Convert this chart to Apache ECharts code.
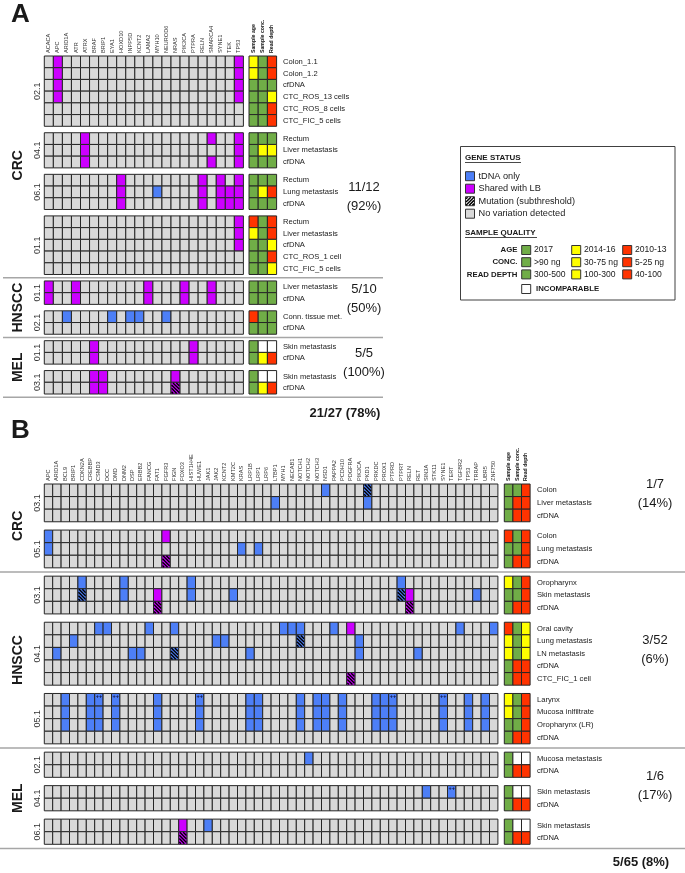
<!DOCTYPE html>
<html><head><meta charset="utf-8">
<script src="https://cdn.jsdelivr.net/npm/echarts@6/dist/echarts.min.js"></script>
<style>html,body{margin:0;padding:0;background:#fff}#c{width:685px;height:873px}</style>
</head><body><div id="c"></div>
<script>
// ================= DATA =================
const qualityCols = ['Sample age', 'Sample conc.', 'Read depth'];

// ---- Panel A ----
const genesA = ['ACACA','APC','ARID1A','ATR','ATRX','BRAF','BRIP1','EYA1','HOXD10','INPP5D','KCNT2','LAMA2','MYH10','NEUROD6','NRAS','PIK3CA','PTPRA','RELN','SMARCA4','SYNE1','TEK','TP53'];
const cancerA = ['CRC','CRC','CRC','CRC','HNSCC','HNSCC','MEL','MEL'];
const patientA = ['02.1','04.1','06.1','01.1','01.1','02.1','01.1','03.1'];
const samplesA = [
  ['Colon_1.1','Colon_1.2','cfDNA','CTC_ROS_13 cells','CTC_ROS_8 cells','CTC_FIC_5 cells'],
  ['Rectum','Liver metastasis','cfDNA'],
  ['Rectum','Lung metastasis','cfDNA'],
  ['Rectum','Liver metastasis','cfDNA','CTC_ROS_1 cell','CTC_FIC_5 cells'],
  ['Liver metastasis','cfDNA'],
  ['Conn. tissue met.','cfDNA'],
  ['Skin metastasis','cfDNA'],
  ['Skin metastasis','cfDNA']
];
// quality per sample: age / conc. / read depth  (G 2017|>90|300-500, Y, R, W incomparable)
const qualityA = [
  ['YGR','YGR','GGG','GGY','GGR','GGR'],
  ['GGG','GYY','GGG'],
  ['GGG','GYR','GGG'],
  ['RGR','YGR','GGY','GGR','GGY'],
  ['GGG','GGG'],
  ['RGG','GGG'],
  ['GWW','GYR'],
  ['GWW','GYR']
];
// [patient index, sample rows, gene, status]  T = tDNA only, S = shared with LB, TH/SH = subthreshold
const variantsA = [
  [0,'0123','APC','S'],[0,'0123','TP53','S'],
  [1,'012','ATRX','S'],[1,'02','SMARCA4','S'],[1,'012','TP53','S'],
  [2,'012','HOXD10','S'],[2,'1','MYH10','T'],[2,'012','RELN','S'],[2,'012','SYNE1','S'],[2,'12','TEK','S'],[2,'012','TP53','S'],
  [3,'012','TP53','S'],
  [4,'01','ACACA','S'],[4,'01','ATR','S'],[4,'01','LAMA2','S'],[4,'01','PIK3CA','S'],[4,'01','SMARCA4','S'],
  [5,'0','ARID1A','T'],[5,'0','EYA1','T'],[5,'0','INPP5D','T'],[5,'0','KCNT2','T'],[5,'0','NEUROD6','T'],
  [6,'01','BRAF','S'],[6,'01','PTPRA','S'],
  [7,'01','BRAF','S'],[7,'01','BRIP1','S'],[7,'0','NRAS','S'],[7,'1','NRAS','SH']
];
const plusA = [];
const fracCancerA = ['CRC','HNSCC','MEL'];
const fracA = [['11/12','(92%)'],['5/10','(50%)'],['5/5','(100%)']];
const totalA = '21/27 (78%)';

// ---- Panel B ----
const genesB = ['APC','ARID1A','BCL9','BRIP1','CDKN2A','CREBBP','CSMD3','DCC','DMD','DNM2','DSP','ERBB2','FANCG','FAT1','FGFR3','FIGN','FOXO3','HIST1H4E','HUWE1','JAK1','JAK2','KCNT2','KMT2C','KRAS','LRP1B','LRP1','LRP6','LTBP1','MYH1','NECAB1','NOTCH1','NOTCH2','NOTCH3','NSD1','PAPPA2','PCDH10','PDGFRA','PIK3CA','PKD1','PRKDC','PROX1','PTPRD','PTPRT','RELN','RET','SIN3A','STK11','SYNE1','TERT','TGFBR2','TP53','TRRAP','UBR5','ZNF750'];
const cancerB = ['CRC','CRC','HNSCC','HNSCC','HNSCC','MEL','MEL','MEL'];
const patientB = ['03.1','05.1','03.1','04.1','05.1','02.1','04.1','06.1'];
const samplesB = [
  ['Colon','Liver metastasis','cfDNA'],
  ['Colon','Lung metastasis','cfDNA'],
  ['Oropharynx','Skin metastasis','cfDNA'],
  ['Oral cavity','Lung metastasis','LN metastasis','cfDNA','CTC_FIC_1 cell'],
  ['Larynx','Mucosa inlfiltrate','Oropharynx (LR)','cfDNA'],
  ['Mucosa metastasis','cfDNA'],
  ['Skin metastasis','cfDNA'],
  ['Skin metastasis','cfDNA']
];
const qualityB = [
  ['GGR','GRR','GRR'],
  ['RGR','GGR','GRR'],
  ['YGR','GGR','GRR'],
  ['RGY','YGY','YGY','GRR','GRR'],
  ['YGR','YGR','GGR','GRR'],
  ['GWW','GRR'],
  ['GWW','GRR'],
  ['GWW','GRR']
];
const variantsB = [
  [0,'0','NSD1','T'],[0,'0','PKD1','TH'],[0,'1','LTBP1','T'],[0,'1','PKD1','T'],
  [1,'01','APC','T'],[1,'0','FGFR3','S'],[1,'2','FGFR3','SH'],[1,'1','KRAS','T'],[1,'1','LRP1','T'],
  [2,'0','CDKN2A','T'],[2,'1','CDKN2A','TH'],[2,'01','DNM2','T'],[2,'01','HIST1H4E','T'],[2,'1','FAT1','S'],[2,'2','FAT1','SH'],
  [2,'1','KMT2C','T'],[2,'0','PTPRT','T'],[2,'1','PTPRT','TH'],[2,'1','RELN','S'],[2,'2','RELN','SH'],[2,'1','TRRAP','T'],
  [3,'0','CSMD3','T'],[3,'0','DCC','T'],[3,'0','FANCG','T'],[3,'0','FIGN','T'],[3,'0','MYH1','T'],[3,'0','NECAB1','T'],
  [3,'0','NOTCH1','T'],[3,'0','PAPPA2','T'],[3,'0','PDGFRA','S'],[3,'0','TGFBR2','T'],[3,'0','ZNF750','T'],
  [3,'1','BRIP1','T'],[3,'1','JAK2','T'],[3,'1','KCNT2','T'],[3,'1','NOTCH1','TH'],[3,'12','PIK3CA','T'],
  [3,'2','ARID1A','T'],[3,'2','DSP','T'],[3,'2','ERBB2','T'],[3,'2','FIGN','TH'],[3,'2','LRP1B','T'],[3,'2','RET','T'],
  [3,'4','PDGFRA','SH'],
  [4,'012','BCL9','T'],[4,'012','CREBBP','T'],[4,'012','CSMD3','T'],[4,'012','DMD','T'],[4,'012','FAT1','T'],[4,'012','HUWE1','T'],
  [4,'012','LRP1B','T'],[4,'012','LRP1','T'],[4,'012','NOTCH1','T'],[4,'012','NOTCH3','T'],[4,'012','NSD1','T'],[4,'012','PCDH10','T'],
  [4,'012','PRKDC','T'],[4,'012','PROX1','T'],[4,'012','PTPRD','T'],[4,'012','SYNE1','T'],[4,'012','TP53','T'],[4,'012','UBR5','T'],
  [5,'0','NOTCH2','T'],
  [6,'0','SIN3A','T'],[6,'0','TERT','T'],
  [7,'0','FOXO3','S'],[7,'1','FOXO3','SH'],[7,'0','JAK1','T']
];
// cells marked "++"
const plusB = [[4,0,'CSMD3'],[4,0,'DMD'],[4,0,'HUWE1'],[4,0,'PTPRD'],[4,0,'SYNE1'],[6,0,'TERT']];
const fracCancerB = ['CRC','HNSCC','MEL'];
const fracB = [['1/7','(14%)'],['3/52','(6%)'],['1/6','(17%)']];
const totalB = '5/65 (8%)';

// ================= LAYOUT / STYLE =================
const FONT = '"Liberation Sans", Arial, sans-serif';
const COL = {N:'#d9d9d9', T:'#4d7ff7', S:'#cc00ff', G:'#70ad47', Y:'#ffff00', R:'#ff3300', W:'#ffffff'};
const STATUS = ['N','T','S','TH','SH'];
const QCODE = ['G','Y','R','W'];
const LA = {top:56, height:338, geneLeft:44.3, geneW:199.1, qLeft:249, qW:27.6, gap:0.55, labelX:283,
            fracX:364, fracY:[12.03,20.74,26.2], totX:345, totY:30.47, sepX:[3,383]};
const LB = {top:484, height:360.3, geneLeft:44.3, geneW:453.6, qLeft:504.3, qW:25.8, gap:0.66, labelX:537,
            fracX:655, fracY:[0.75,13.15,23.95], totX:641, totY:30.03, sepX:[0,685]};

function groupStarts(samples, gap){
  let y = 0;
  const st = samples.map((s,i)=>{ if(i) y += gap; const v = y; y += s.length; return v; });
  return {starts: st, total: y};
}
function hatchLines(x0,y0,w,h,step,dir){
  const out=[];
  if(dir>0){
    for(let c=-h+step/2;c<w;c+=step){
      const sx=x0+Math.max(c,0), sy=y0+Math.max(-c,0);
      const L=Math.min(x0+w-sx, y0+h-sy);
      if(L>0) out.push([sx,sy,sx+L,sy+L]);
    }
  } else {
    for(let c=step/2;c<w+h;c+=step){
      const sx = c<=w ? x0+c : x0+w, sy = c<=w ? y0 : y0+c-w;
      const L=Math.min(sx-x0, y0+h-sy);
      if(L>0) out.push([sx,sy,sx-L,sy+L]);
    }
  }
  return out;
}
function txt(text, x, y, o){
  o = o || {};
  return {type:'text', x:x, y:y, rotation:o.rot||0, silent:true,
    style:{text:text, fill:o.color||'#1a1a1a', fontSize:o.size||8, fontWeight:o.weight||'normal', fontFamily:FONT,
      align:o.align||'left', verticalAlign:'middle', textAlign:o.align||'left', textVerticalAlign:'middle'}};
}

function buildPanel(P, genes, cancer, patient, samples, quality, variants, plus, fracCancer, frac, total, axOff){
  const gi = axOff, qi = axOff+1;
  const {starts, total: totalUnits} = groupStarts(samples, P.gap);
  const vmap = {};
  variants.forEach(([g, rows, gene, st]) => { for (const r of rows) vmap[g+'|'+r+'|'+gene] = st; });
  const pset = new Set(plus.map(([g,r,gene]) => g+'|'+r+'|'+gene));
  const cells = [], qcells = [], rowLabels = [], rowY = [];
  samples.forEach((rows, g) => rows.forEach((name, r) => {
    const y = starts[g] + r;
    genes.forEach((gene, c) => {
      const k = g+'|'+r+'|'+gene;
      cells.push([c, y, STATUS.indexOf(vmap[k] || 'N'), pset.has(k) ? 1 : 0]);
    });
    quality[g][r].split('').forEach((q, c) => qcells.push([c, y, QCODE.indexOf(q)]));
    rowLabels.push(name); rowY.push([2, y + 0.5]);
  }));
  const blocks = [];
  cancer.forEach((c, g) => {
    const end = starts[g] + samples[g].length;
    if (blocks.length && blocks[blocks.length-1].name === c) blocks[blocks.length-1].end = end;
    else blocks.push({name:c, start:starts[g], end:end});
  });

  const grids = [
    {left:P.geneLeft, top:P.top, width:P.geneW, height:P.height},
    {left:P.qLeft, top:P.top, width:P.qW, height:P.height}
  ];
  const xAxes = [
    {type:'category', gridIndex:gi, data:genes, position:'top', axisLine:{show:false}, axisTick:{show:false},
     axisLabel:{rotate:90, interval:0, fontSize:5.6, fontFamily:FONT, color:'#333', margin:3}},
    {type:'category', gridIndex:qi, data:qualityCols, position:'top', axisLine:{show:false}, axisTick:{show:false},
     axisLabel:{rotate:90, interval:0, fontSize:5.2, fontWeight:'bold', fontFamily:FONT, color:'#111', margin:3}}
  ];
  const yAxes = [
    {type:'value', gridIndex:gi, min:0, max:totalUnits, inverse:true, show:false},
    {type:'value', gridIndex:qi, min:0, max:totalUnits, inverse:true, show:false}
  ];
  const series = [];
  series.push({type:'custom', xAxisIndex:gi, yAxisIndex:gi, silent:true, animation:false, clip:false,
    data:cells, encode:{x:0, y:1},
    renderItem:(params, api) => {
      const p = api.coord([api.value(0), api.value(1)]);
      const s = api.size([1, 1]);
      const x0 = p[0]-s[0]/2, y0 = p[1], w = s[0], h = s[1];
      const st = api.value(2);
      const fill = [COL.N, COL.T, COL.S, COL.T, COL.S][st];
      const ch = [{type:'rect', shape:{x:x0, y:y0, width:w, height:h}, style:{fill:fill, stroke:'#262626', lineWidth:1}}];
      if (st >= 3) hatchLines(x0+0.6, y0+0.6, w-1.2, h-1.2, 3.4, 1).forEach(l => ch.push(
        {type:'line', shape:{x1:l[0], y1:l[1], x2:l[2], y2:l[3]}, style:{stroke:'#000', lineWidth:1.4}}));
      if (api.value(3)) ch.push(txt('++', x0+w/2, y0+3.2, {size:5.5, weight:'bold', align:'center', color:'#14143c'}));
      return {type:'group', children:ch};
    }});
  series.push({type:'custom', xAxisIndex:qi, yAxisIndex:qi, silent:true, animation:false, clip:false,
    data:qcells, encode:{x:0, y:1},
    renderItem:(params, api) => {
      const p = api.coord([api.value(0), api.value(1)]);
      const s = api.size([1, 1]);
      return {type:'rect', shape:{x:p[0]-s[0]/2, y:p[1], width:s[0], height:s[1]},
        style:{fill:COL[QCODE[api.value(2)]], stroke:'#262626', lineWidth:1}};
    }});
  series.push({type:'custom', xAxisIndex:qi, yAxisIndex:qi, silent:true, animation:false, clip:false,
    data:rowY, encode:{x:0, y:1},
    renderItem:(params, api) => {
      const p = api.coord([api.value(0), api.value(1)]);
      return txt(rowLabels[params.dataIndex], P.labelX, p[1], {size:7.6});
    }});
  series.push({type:'custom', xAxisIndex:gi, yAxisIndex:gi, silent:true, animation:false, clip:false,
    data:patient.map((id, g) => [0, starts[g] + samples[g].length/2]), encode:{x:0, y:1},
    renderItem:(params, api) => {
      const p = api.coord([api.value(0), api.value(1)]);
      const s = api.size([1, 1]);
      return txt(patient[params.dataIndex], p[0]-s[0]/2-7, p[1], {size:9, align:'center', rot:Math.PI/2, color:'#333'});
    }});
  series.push({type:'custom', xAxisIndex:gi, yAxisIndex:gi, silent:true, animation:false, clip:false,
    data:blocks.map(b => [0, (b.start+b.end)/2, b.end + P.gap/2]), encode:{x:0, y:1},
    renderItem:(params, api) => {
      const p = api.coord([0, api.value(1)]);
      const q = api.coord([0, api.value(2)]);
      return {type:'group', children:[
        txt(blocks[params.dataIndex].name, 18, p[1], {size:14, weight:'bold', align:'center', rot:Math.PI/2, color:'#1a1a1a'}),
        {type:'line', shape:{x1:P.sepX[0], y1:q[1], x2:P.sepX[1], y2:q[1]}, style:{stroke:'#a6a6a6', lineWidth:1.5}}
      ]};
    }});
  series.push({type:'custom', xAxisIndex:gi, yAxisIndex:gi, silent:true, animation:false, clip:false,
    data:fracCancer.map((c, i) => [0, P.fracY[i]]).concat([[0, P.totY]]), encode:{x:0, y:1},
    renderItem:(params, api) => {
      const p = api.coord([0, api.value(1)]);
      const i = params.dataIndex;
      if (i < frac.length) return {type:'group', children:[
        txt(frac[i][0], P.fracX, p[1]-9.5, {size:13, align:'center', color:'#1a1a1a'}),
        txt(frac[i][1], P.fracX, p[1]+9.5, {size:13, align:'center', color:'#1a1a1a'})]};
      return txt(total, P.totX, p[1], {size:13, weight:'bold', align:'center', color:'#1a1a1a'});
    }});
  return {grids, xAxes, yAxes, series};
}

const pa = buildPanel(LA, genesA, cancerA, patientA, samplesA, qualityA, variantsA, plusA, fracCancerA, fracA, totalA, 0);
const pb = buildPanel(LB, genesB, cancerB, patientB, samplesB, qualityB, variantsB, plusB, fracCancerB, fracB, totalB, 2);

// ---- legend (graphic) ----
const g = [];
function gtxt(text, x, y, o){ o=o||{}; return {type:'text', x:x, y:y, silent:true, style:{text:text, fill:'#1a1a1a',
  fontSize:o.size||9, fontWeight:o.weight||'normal', fontFamily:FONT, align:o.align||'left', verticalAlign:'middle',
  textAlign:o.align||'left', textVerticalAlign:'middle'}}; }
function gsq(x, y, fill){ return {type:'rect', shape:{x:x, y:y, width:9, height:9}, style:{fill:fill, stroke:'#333', lineWidth:1}}; }
g.push(gtxt('A', 11, 15, {size:26, weight:'bold'}));
g.push(gtxt('B', 11, 431, {size:26, weight:'bold'}));
g.push({type:'rect', shape:{x:460.5, y:146.5, width:214.5, height:153.5}, style:{fill:'#fff', stroke:'#404040', lineWidth:1}});
g.push(gtxt('GENE STATUS', 465, 158, {size:8, weight:'bold'}));
g.push({type:'line', shape:{x1:465, y1:162.5, x2:521, y2:162.5}, style:{stroke:'#1a1a1a', lineWidth:0.8}});
const gsItems = [['tDNA only', COL.T], ['Shared with LB', COL.S], ['Mutation (subthreshold)', '#fff'], ['No variation detected', COL.N]];
gsItems.forEach((it, i) => {
  const y = 171.7 + i*12.5;
  g.push(gsq(465.5, y, it[1]));
  if (i === 2) hatchLines(466, y+0.5, 8, 8, 3.2, -1).forEach(l => g.push({type:'line', shape:{x1:l[0], y1:l[1], x2:l[2], y2:l[3]}, style:{stroke:'#000', lineWidth:1.5}}));
  g.push(gtxt(it[0], 478.5, y+4.7, {size:9.2}));
});
g.push(gtxt('SAMPLE QUALITY', 465, 233, {size:8, weight:'bold'}));
g.push({type:'line', shape:{x1:465, y1:237.5, x2:537, y2:237.5}, style:{stroke:'#1a1a1a', lineWidth:0.8}});
const sqRows = [['AGE', ['2017','2014-16','2010-13']], ['CONC.', ['>90 ng','30-75 ng','5-25 ng']], ['READ DEPTH', ['300-500','100-300','40-100']]];
const sqX = [521.7, 571.7, 622.7], sqC = [COL.G, COL.Y, COL.R];
sqRows.forEach((row, i) => {
  const y = 250 + i*12.2;
  g.push(gtxt(row[0], 517.5, y, {size:7.8, weight:'bold', align:'right'}));
  row[1].forEach((t, j) => { g.push(gsq(sqX[j], y-4.5, sqC[j])); g.push(gtxt(t, sqX[j]+12.3, y, {size:8.6})); });
});
g.push(gsq(521.7, 284.5, '#fff'));
g.push(gtxt('INCOMPARABLE', 536, 289, {size:7.8, weight:'bold'}));

const chart = echarts.init(document.getElementById('c'));
chart.setOption({
  animation:false,
  backgroundColor:'#fff',
  grid: pa.grids.concat(pb.grids),
  xAxis: pa.xAxes.concat(pb.xAxes),
  yAxis: pa.yAxes.concat(pb.yAxes),
  series: pa.series.concat(pb.series),
  graphic: g
});
</script></body></html>
